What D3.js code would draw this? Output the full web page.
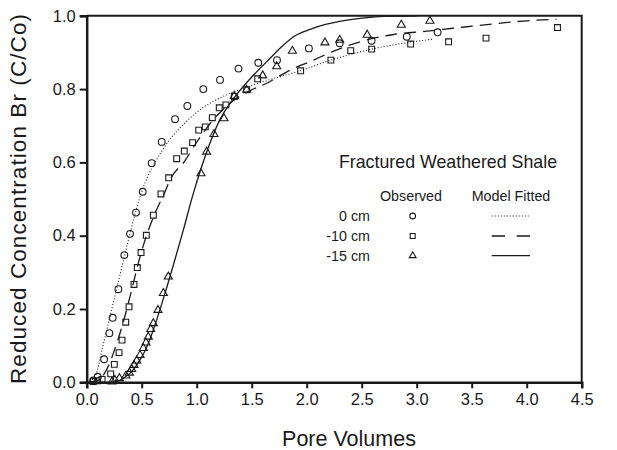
<!DOCTYPE html>
<html>
<head>
<meta charset="utf-8">
<script src="https://cdn.jsdelivr.net/npm/d3@7/dist/d3.min.js"></script>
<style>
  html, body { margin: 0; padding: 0; background: #fff; }
  svg { display: block; font-family: "Liberation Sans", Arial, Helvetica, sans-serif; }
</style>
</head>
<body>
<svg id="chart" width="617" height="450"></svg>
<script>
// Observed breakthrough data (pore volumes vs. C/Co)
const obs0X  = [0.06, 0.10, 0.158, 0.206, 0.236, 0.288, 0.342, 0.394, 0.448, 0.509, 0.591, 0.682, 0.803, 0.915, 1.06, 1.212, 1.38, 1.56, 1.73, 2.02, 2.30, 2.59, 2.91, 3.19];
const obs0Y  = [0.005, 0.015, 0.063, 0.134, 0.176, 0.254, 0.347, 0.405, 0.463, 0.52, 0.598, 0.656, 0.718, 0.754, 0.80, 0.825, 0.856, 0.872, 0.879, 0.911, 0.925, 0.932, 0.943, 0.955];

const obs10X = [0.06, 0.10, 0.14, 0.218, 0.251, 0.294, 0.321, 0.355, 0.385, 0.43, 0.46, 0.494, 0.542, 0.606, 0.675, 0.745, 0.818, 0.887, 0.963, 1.018, 1.078, 1.142, 1.205, 1.266, 1.342, 1.454, 1.554, 1.945, 2.22, 2.40, 2.59, 2.945, 3.29, 3.63, 4.28];
const obs10Y = [0.002, 0.004, 0.008, 0.023, 0.049, 0.081, 0.115, 0.164, 0.206, 0.267, 0.313, 0.354, 0.401, 0.456, 0.514, 0.558, 0.61, 0.631, 0.654, 0.688, 0.697, 0.722, 0.749, 0.757, 0.78, 0.798, 0.828, 0.85, 0.879, 0.905, 0.909, 0.923, 0.929, 0.939, 0.968];

const obs15X = [0.23, 0.257, 0.297, 0.357, 0.388, 0.409, 0.43, 0.455, 0.485, 0.515, 0.539, 0.56, 0.582, 0.606, 0.648, 0.697, 0.742, 1.039, 1.09, 1.157, 1.248, 1.342, 1.454, 1.6, 1.727, 1.87, 2.166, 2.30, 2.55, 2.86, 3.12];
const obs15Y = [0.002, 0.006, 0.011, 0.018, 0.026, 0.036, 0.047, 0.059, 0.074, 0.093, 0.108, 0.124, 0.145, 0.161, 0.197, 0.243, 0.288, 0.57, 0.629, 0.677, 0.72, 0.781, 0.798, 0.837, 0.862, 0.904, 0.927, 0.934, 0.948, 0.975, 0.986];

// Model-fitted curves
const fit0X  = [0, 0.075, 0.14, 0.2, 0.26, 0.32, 0.38, 0.44, 0.5, 0.56, 0.64, 0.75, 0.9, 1.06, 1.24, 1.45, 1.667, 1.94, 2.21, 2.59, 3.14];
const fit0Y  = [0, 0.015, 0.09, 0.165, 0.24, 0.315, 0.39, 0.46, 0.52, 0.565, 0.61, 0.66, 0.71, 0.75, 0.78, 0.805, 0.826, 0.85, 0.878, 0.909, 0.936];

const fit10X = [0, 0.1, 0.18, 0.273, 0.333, 0.409, 0.469, 0.53, 0.621, 0.712, 0.757, 0.894, 1.0, 1.12, 1.242, 1.364, 1.485, 1.636, 1.85, 2.03, 2.24, 2.485, 2.79, 3.09, 3.33, 3.73, 4.03, 4.27];
const fit10Y = [0, 0.005, 0.034, 0.106, 0.165, 0.252, 0.325, 0.388, 0.461, 0.52, 0.552, 0.605, 0.655, 0.705, 0.745, 0.775, 0.796, 0.816, 0.852, 0.875, 0.903, 0.929, 0.949, 0.958, 0.966, 0.979, 0.987, 0.99];

const fit15X = [0, 0.2, 0.27, 0.333, 0.409, 0.485, 0.56, 0.636, 0.712, 0.788, 0.879, 0.97, 1.045, 1.12, 1.21, 1.303, 1.424, 1.545, 1.667, 1.76, 1.88, 2.03, 2.18, 2.3, 2.485, 2.79, 3.0];
const fit15Y = [0, 0, 0.002, 0.011, 0.029, 0.061, 0.106, 0.17, 0.243, 0.32, 0.416, 0.516, 0.588, 0.652, 0.716, 0.761, 0.807, 0.847, 0.884, 0.912, 0.943, 0.963, 0.977, 0.985, 0.993, 0.999, 1.0];

// Axis ticks
const xTicks = [0.0, 0.5, 1.0, 1.5, 2.0, 2.5, 3.0, 3.5, 4.0, 4.5];
const yTicks = [0.0, 0.2, 0.4, 0.6, 0.8, 1.0];

// Legend rows
const depthLabels = ["0 cm", "-10 cm", "-15 cm"];

const ink = "#1a1a1a";
const svg = d3.select("#chart");
const margin = { left: 86.7, right: 35.3, top: 15.8, bottom: 67.7 };
const W = 617 - margin.left - margin.right;
const H = 450 - margin.top - margin.bottom;

const x = d3.scaleLinear().domain([0, 4.5]).range([0, W]);
const y = d3.scaleLinear().domain([0, 1]).range([H, 0]);

const g = svg.append("g").attr("transform", `translate(${margin.left},${margin.top})`);

// Frame: top and right borders
g.append("path")
  .attr("d", `M0,0H${W}V${H}`)
  .attr("fill", "none").attr("stroke", ink).attr("stroke-width", 2);

// Axes
const xAxis = d3.axisBottom(x).tickValues(xTicks).tickFormat(d3.format(".1f")).tickSizeOuter(0).tickSize(6).tickPadding(5);
const yAxis = d3.axisLeft(y).tickValues(yTicks).tickFormat(d3.format(".1f")).tickSizeOuter(0).tickSize(7).tickPadding(4);

const gx = g.append("g").attr("transform", `translate(0,${H})`).call(xAxis);
const gy = g.append("g").call(yAxis);
[gx, gy].forEach(a => {
  a.select(".domain").attr("stroke", ink).attr("stroke-width", 2.5);
  a.selectAll(".tick line").attr("stroke", ink).attr("stroke-width", 2);
  a.selectAll(".tick text").attr("fill", ink).attr("font-size", 16.5).attr("font-family", "Liberation Sans, Arial, sans-serif");
});

// Model curves
const line = d3.line().x(d => x(d[0])).y(d => y(d[1])).curve(d3.curveMonotoneX);
const fits = [
  { xs: fit0X,  ys: fit0Y,  dash: "1,2",  w: 1.1 },
  { xs: fit10X, ys: fit10Y, dash: "12,7", w: 1.3 },
  { xs: fit15X, ys: fit15Y, dash: null,   w: 1.3 }
];
fits.forEach(f => {
  g.append("path")
    .datum(f.xs.map((v, i) => [v, f.ys[i]]))
    .attr("d", line)
    .attr("fill", "none")
    .attr("stroke", ink)
    .attr("stroke-width", f.w)
    .attr("stroke-dasharray", f.dash);
});

// Observed markers
const symCircle = d3.symbol().type(d3.symbolCircle).size(36);
const symSquare = d3.symbol().type(d3.symbolSquare).size(34);
const symTri = d3.symbol().type(d3.symbolTriangle).size(28);
const series = [
  { xs: obs0X,  ys: obs0Y,  sym: symCircle },
  { xs: obs10X, ys: obs10Y, sym: symSquare },
  { xs: obs15X, ys: obs15Y, sym: symTri }
];
series.forEach(s => {
  g.append("g").selectAll("path")
    .data(s.xs.map((v, i) => [v, s.ys[i]]))
    .join("path")
    .attr("transform", d => `translate(${x(d[0])},${y(d[1])})`)
    .attr("d", s.sym())
    .attr("fill", "none")
    .attr("stroke", ink)
    .attr("stroke-width", 1.1);
});

// Axis titles
svg.append("text")
  .attr("x", 349).attr("y", 446)
  .attr("text-anchor", "middle")
  .attr("font-size", 21.5).attr("fill", ink)
  .text("Pore Volumes");

svg.append("text")
  .attr("transform", "translate(26,199) rotate(-90)")
  .attr("text-anchor", "middle")
  .attr("font-size", 22.5).attr("fill", ink)
  .attr("textLength", 370).attr("lengthAdjust", "spacing")
  .text("Reduced Concentration Br (C/Co)");

// Legend
const lg = svg.append("g").attr("fill", ink);
lg.append("text").attr("x", 448).attr("y", 168).attr("text-anchor", "middle")
  .attr("font-size", 17.8).text("Fractured Weathered Shale");
lg.append("text").attr("x", 411).attr("y", 201).attr("text-anchor", "middle")
  .attr("font-size", 14.3).text("Observed");
lg.append("text").attr("x", 511).attr("y", 201).attr("text-anchor", "middle")
  .attr("font-size", 14.3).text("Model Fitted");

const rowY = [216, 236, 255.7];
const legSyms = [
  d3.symbol().type(d3.symbolCircle).size(26),
  d3.symbol().type(d3.symbolSquare).size(24),
  d3.symbol().type(d3.symbolTriangle).size(20)
];
depthLabels.forEach((lab, i) => {
  lg.append("text").attr("x", 370).attr("y", rowY[i] + 5).attr("text-anchor", "end")
    .attr("font-size", 14.3).text(lab);
  lg.append("path").attr("transform", `translate(412.7,${rowY[i]})`)
    .attr("d", legSyms[i]()).attr("fill", "none").attr("stroke", ink).attr("stroke-width", 1.1);
  lg.append("line").attr("x1", 491.7).attr("x2", 530).attr("y1", rowY[i]).attr("y2", rowY[i])
    .attr("stroke", ink).attr("stroke-width", fits[i].w)
    .attr("stroke-dasharray", i === 1 ? "13.3,11.7" : fits[i].dash);
});
</script>
</body>
</html>
